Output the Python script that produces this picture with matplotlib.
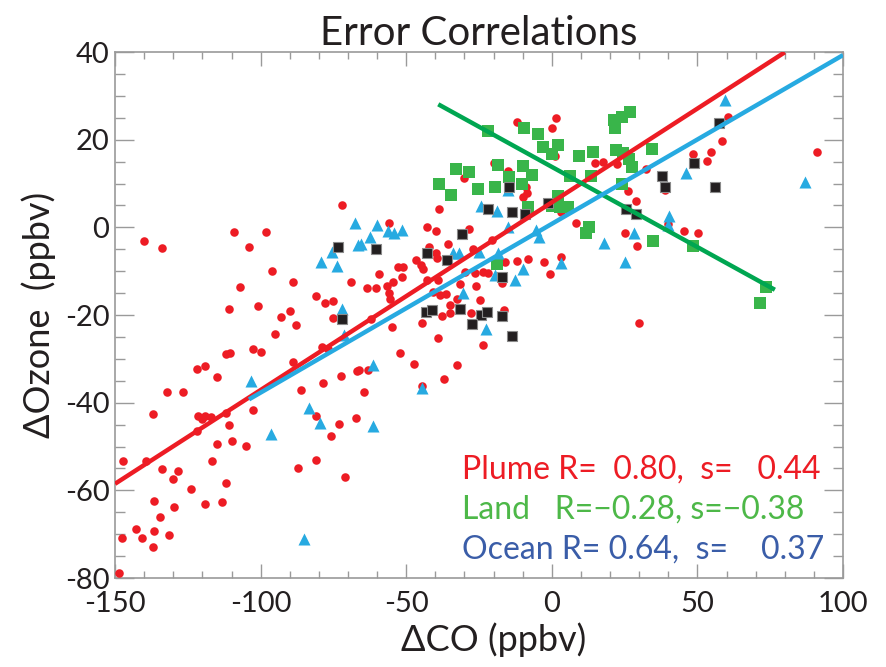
"""
Error Correlations scatter: dOzone vs dCO for plume / land / ocean / other
"""
import matplotlib
matplotlib.use("Agg")
import matplotlib.pyplot as plt
from matplotlib.ticker import MultipleLocator
import numpy as np

plt.rcParams['font.family'] = ['Lato', 'DejaVu Sans']
plt.rcParams['axes.unicode_minus'] = False

# --- data (ppbv) ---
plume_x = [-72, -109, -98, -140, -134, -104, -96, -89, -69, -107, -81, -78, -75, -111, -101,
           -90, -93, -75, -88, -95, -102.5, -100, -112, -110.5, -79, -77, -89, -122, -119,
           -115, -72.5, -67, -78.5, -86, -132, -126.5, -137, -121.6, -119, -117, -120, -112,
           -111, -102.5, -81, -73, -67.4, -122, -76, -115, -110, -105, -147.4, -139.5,
           -116.6, -134, -128.5, -130, -87, -81, -71, -124, -112, -136.5, -129.6, -119,
           -113.4, -134.4, -142.8, -147.5, -140.6, -136.6, -137, -131.4, -148.5,
           -12, 1.4, 0, 1, 15, 17.7, -20, -30, -15, -9, -9.8, -8.4, 3, -38.7, 8.2, -56,
           -42.7, -39.8, -28.3, -20.6,
           22.3, 32.4, 60.6, 58.3, 54.7, 53.2, 48.6, 38.9, 91.2, 26.3, 28.8, 40, 25.1,
           45.5, 50.1, 29.4, 30,
           -35.8, -42.2, -39.8, -39.3, -46.6, -44.9, -44.3, -52.9, -51, -59.3, -51.3,
           -54.7, -63.4, -60.4, -56.7, -55.8, -55.6, -42.7, -39.2, -29.8, -26.4, -23.8,
           -22, -17.2, -16.1, -11.9, -8.1, -2.6, -0.6, 3.2, -31.5, -26, -24.7, -40.7,
           -38.4, -36.3, -32.7, -35, -35, -37.8, -27.9, -16.4, -55, -44.7, -39.2, -23.5,
           -62.1, -52.1, -47.2, -32.7, -66.2, -63.2, -36.9, -44.7, -64.4, -27]
plume_y = [5, -1.1, -1.1, -3.2, -4.8, -4.4, -9.9, -12.4, -12.4, -13.5, -15.6, -17.2, -16.7,
           -18.6, -18, -19.1, -20.4, -20.6, -22.3, -24.4, -27.8, -28.5, -28.9, -28.6, -27.4,
           -27.8, -30.7, -32.2, -31.6, -34.2, -33.8, -32.7, -35.4, -37.1, -37.5, -37.5,
           -42.5, -43, -43, -43.3, -43.8, -42.4, -45.1, -41.7, -43, -44.9, -43.6, -46.5,
           -47.6, -49.4, -48.8, -49.9, -53.3, -53.2, -53.2, -55.1, -55.5, -57.5, -54.8,
           -53.1, -56.9, -59.7, -58.3, -62.4, -63.9, -63.2, -62.7, -66, -68.8, -70.9,
           -70.9, -69.3, -72.9, -70.2, -78.8,
           24, 24.9, 22.6, 16.3, 14.6, 15, 14.7, 11.2, 12.9, 9.3, 7, 7.9, 3.6, 4.3, 1.1,
           0.9, 0.1, -0.8, -0.4, -2.9,
           14.4, 13.2, 25.1, 19.8, 17.1, 15.2, 16.7, 8.5, 17.1, 8.4, 6, 0.8, -1.2, -0.8,
           -1.2, -4.2, -21.9,
           -3.9, -4.4, -5.9, -7.1, -7.5, -8.6, -9.4, -9, -9, -10.7, -11.3, -12.4, -13.8,
           -13.9, -13.4, -14.9, -16.4, -12, -12, -10.1, -10.5, -10.1, -10.5, -12.8, -7.8,
           -7.6, -7.3, -7.8, -10.7, -6.8, -13, -13.4, -16.6, -14.7, -15.4, -15.1, -16.4,
           -17.7, -19.6, -20.2, -19.6, -18.9, -22.7, -21.9, -25.2, -26.9, -21, -28.7,
           -31.2, -31.3, -32.6, -32.6, -34.7, -36.2, -37.6, -5]

ocean_x = [-67.6, -75.6, -66.4, -79.4, -73.9, -72.2, -71.3, -103.4, -83.3, -79.6, -96.5,
           -85.1, -15.2, -24.3, -18.7, -59.9, -56.2, -54.1, -51.6, -62.4, -15, -4.3, -5.5,
           59.5, 46.1, 86.9, 40.2, 40, 28.3, 17.9, 25.1, -65.6, -33.8, -31.9, -24.9,
           -18.6, -19.5, -9.8, -12.6, 3.2, -30.4, -22.6, -61.5, -44.7, -61.5]
ocean_y = [1, -5.6, -4, -8, -8.8, -18.7, -24.6, -35.1, -41.1, -44.7, -47.2, -71.2, 8.5,
           4.9, 3.8, 0.5, -0.8, -1.4, -0.6, -2.1, 0, -2.1, -0.6, 29, 12.5, 10.4, 2.7, 0.5,
           -1.2, -3.6, -8, -3.9, -5.8, -5.9, -5.6, -5.9, -10.9, -9.6, -11.9, -8.2, -14.9,
           -23.2, -31.3, -36.7, -45.3]

other_x = [-73.3, -72.2, -14.7, -1.2, -21.8, -13.8, -9.2, -31, 57.5, 48.9, 37.7, 38.9, 56,
           25.4, 29, -60.5, -42.7, -36.1, -17.2, -43.2, -41.3, -31.5, -24.4, -22.4, -17.2,
           -27.3, -13.6]
other_y = [-4.4, -20.8, 9.3, 5.6, 4.3, 3.6, 3.0, -1.5, 23.7, 14.6, 11.7, 9.3, 9.3, 4.3,
           3.0, -4.9, -5.9, -7.5, -11.3, -19.2, -18.9, -18.7, -20, -19.2, -20.2, -22.1,
           -24.8]

land_x = [-21.8, -9.6, -4.6, -3.2, 2.2, 0.1, 9.4, 14.2, -18.6, -32.9, -28.3, -9.8, -6.9,
          -14.6, -10.4, -38.7, -34.7, -25.2, -19.5, -8.1, 6.3, 13.4, 2, 0, 2.8, 5.7, 12.6,
          11.7, 26.9, 24, 21.4, 21.7, 34.3, 22, 24.6, 26.6, 27.7, 24, 34.7, 48.6, 73.6,
          71.6, -18.7]
land_y = [22, 22.7, 21.3, 18.3, 18.8, 16.7, 16.3, 17.1, 14.2, 13.2, 12.7, 14, 11.9, 11.4,
          9.9, 9.9, 7.4, 8.7, 9.3, 4.7, 11.8, 11.7, 7.2, 4.9, 4.7, 4.7, 0, -1.2, 26.4,
          25.1, 24.5, 22.6, 17.9, 17.6, 16.9, 15.7, 13.8, 9.9, -3.1, -4.2, -13.7, -17.3,
          -8.4]

# regression lines: plume, land, ocean
fit_names = ["plume", "land", "ocean"]
fit_slope = [0.428, -0.366, 0.385]
fit_icept = [5.7, 13.8, 0.8]
fit_xmin = [-150, -39, -104]
fit_xmax = [80, 76.6, 100]

stats_labels = ["Plume R=  0.80,  s=   0.44",
                "Land   R=\u22120.28, s=\u22120.38",
                "Ocean R= 0.64,  s=    0.37"]

RED = "#ed1c24"
BLUE = "#27aae1"
GREEN = "#39b54a"
LINE_GREEN = "#00a651"
TXT_GREEN = "#4db848"
TXT_BLUE = "#3a5da8"
LINE_COLORS = {"plume": RED, "land": LINE_GREEN, "ocean": BLUE}

fig = plt.figure(figsize=(8.87, 6.67), dpi=100)
ax = fig.add_axes([0.1297, 0.1334, 0.8207, 0.7886])

ax.scatter(plume_x, plume_y, s=38, marker="o", color=RED, lw=0, zorder=3)
ax.scatter(land_x, land_y, s=70, marker="s", color=GREEN, lw=0, zorder=3)
ax.scatter(ocean_x, ocean_y, s=75, marker="^", color=BLUE, lw=0, zorder=4)
ax.scatter(other_x, other_y, s=50, marker="s", color="#231f20",
           edgecolors="#8a8a8a", lw=0.8, zorder=4)

for name, m, b, x0, x1 in zip(fit_names, fit_slope, fit_icept, fit_xmin, fit_xmax):
    xs = np.array([x0, x1])
    ax.plot(xs, m * xs + b, color=LINE_COLORS[name], lw=3.2, zorder=5,
            solid_capstyle="butt")

for i, (txt, col) in enumerate(zip(stats_labels, [RED, TXT_GREEN, TXT_BLUE])):
    ax.text(0.477, 0.207 - i * 0.076, txt, transform=ax.transAxes, color=col,
            fontsize=23, va="center", ha="left")

ax.set_xlim(-150, 100)
ax.set_ylim(-80, 40)
ax.xaxis.set_major_locator(MultipleLocator(50))
ax.xaxis.set_minor_locator(MultipleLocator(10))
ax.yaxis.set_major_locator(MultipleLocator(20))
ax.yaxis.set_minor_locator(MultipleLocator(5))
ax.tick_params(axis="both", which="both", direction="in", top=True, right=True,
               color="#9a9a9a", labelsize=21, labelcolor="#231f20")
ax.tick_params(axis="x", which="major", length=10, width=1, pad=9)
ax.tick_params(axis="x", which="minor", length=5, width=1)
ax.tick_params(axis="y", which="major", length=14, width=1, pad=4)
ax.tick_params(axis="y", which="minor", length=7, width=1)
for sp in ax.spines.values():
    sp.set_color("#9a9a9a")
    sp.set_linewidth(1.2)

ax.set_xlabel("\u0394CO (ppbv)", fontsize=26, color="#231f20")
ax.xaxis.set_label_coords(0.52, -0.085)
ax.set_ylabel("\u0394Ozone  (ppbv)", fontsize=26, color="#231f20", labelpad=6)
ax.set_title("Error Correlations", fontsize=29, color="#231f20", pad=5)

fig.savefig("out.png", dpi=100)
